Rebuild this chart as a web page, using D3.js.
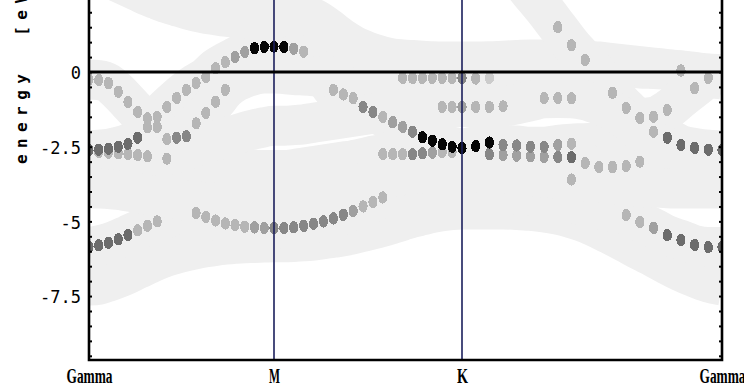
<!DOCTYPE html>
<html>
<head>
<meta charset="utf-8">
<script src="https://cdn.jsdelivr.net/npm/d3@7"></script>
<style>
  body { margin: 0; background: #fff; }
  svg { display: block; }
</style>
</head>
<body>
<div id="chart"></div>
<script>
// k-path: Gamma - M - K - Gamma, 19 steps per segment
var kLabels = ["Gamma", "M", "K", "Gamma"];
var kTicks = [0, 19, 38, 57];
var yTicks = [0, -2.5, -5, -7.5];
var yLabel = "energy  [eV]";

// band energies (eV) at k = 0..57, weights 0..9 (0 = no dot drawn)
var band1 = [-7.15, -7.12, -7.02, -6.9, -6.76, -6.6, -6.45, -6.3, -6.18, -6.08, -6.0, -5.93, -5.87, -5.82, -5.78, -5.75, -5.73, -5.72, -5.71, -5.7,
  -5.7, -5.69, -5.67, -5.64, -5.6, -5.55, -5.5, -5.43, -5.35, -5.27, -5.18, -5.08, -4.98, -4.88, -4.8, -4.72, -4.66, -4.62, -4.6,
  -4.6, -4.6, -4.6, -4.62, -4.65, -4.7, -4.78, -4.9, -5.05, -5.25, -5.48, -5.72, -5.97, -6.2, -6.45, -6.68, -6.88, -7.05, -7.15];

var band2 = [-5.85, -5.8, -5.72, -5.6, -5.45, -5.3, -5.15, -5.0, -4.88, -4.78, -4.72, -4.72, -4.85, -4.97, -5.07, -5.13, -5.18, -5.2, -5.22, -5.23,
  -5.22, -5.2, -5.15, -5.08, -5.0, -4.9, -4.78, -4.65, -4.5, -4.35, -4.2, -4.1, -4.05, -4.02, -4.0, -4.0, -4.0, -4.0, -4.0,
  -4.0, -4.02, -4.05, -4.1, -4.15, -4.22, -4.3, -4.4, -4.5, -4.6, -4.7, -4.79, -5.02, -5.22, -5.46, -5.62, -5.79, -5.86, -5.86];
var weight2 = [6, 6, 6, 6, 6, 3, 3, 3, 0, 0, 0, 3, 3, 3, 3, 3, 3, 4, 4, 5,
  5, 5, 5, 5, 5, 5, 5, 4, 3, 3, 3, 0, 0, 0, 0, 0, 0, 0, 0,
  0, 0, 0, 0, 0, 0, 0, 0, 0, 0, 0, 3, 3, 4, 6, 6, 6, 6, 6];

var band3 = [-2.62, -2.6, -2.57, -2.5, -2.4, -2.2, -1.85, -1.5, -1.17, -0.87, -0.6, -0.37, -0.17, 0.13, 0.33, 0.5, 0.67, 0.8, 0.84, 0.85,
  0.84, 0.78, 0.68, 0.35, -0.1, -0.6, -0.75, -0.88, -1.17, -1.34, -1.5, -1.68, -1.84, -2.0, -2.18, -2.3, -2.42, -2.5, -2.55,
  -2.48, -2.36, -2.44, -2.46, -2.5, -2.5, -2.44, -2.4, -2.38, -2.35, -2.3, -2.2, -2.1, -2.0, -2.2, -2.44, -2.54, -2.6, -2.62];
var weight3 = [6, 6, 6, 6, 6, 6, 3, 3, 3, 3, 3, 3, 3, 3, 3, 4, 4, 9, 9, 9,
  9, 4, 3, 0, 0, 3, 3, 3, 5, 5, 3, 4, 4, 5, 9, 9, 9, 9, 9,
  9, 9, 5, 5, 5, 5, 4, 3, 0, 0, 0, 0, 0, 3, 6, 6, 6, 6, 6];

var band4 = [-0.25, -0.27, -0.37, -0.66, -1.0, -1.34, -1.55, -1.84, -2.25, -2.2, -2.15, -1.72, -1.37, -1.0, -0.6, -0.35, -0.2, -0.1, -0.05, -0.05,
  -0.07, -0.1, -0.12, -0.14, -0.16, -0.17, -0.18, -0.19, -0.2, -0.2, -0.2, -0.2, -0.2, -0.2, -0.2, -0.2, -0.2, -0.2, -0.2,
  -0.22, -0.2, -0.15, -0.05, 0.05, 0.12, 0.18, 0.2, 0.2, 0.2, 0.18, 0.15, 0.12, 0.1, 0.08, 0.05, -0.05, -0.18, -0.25];
var weight4 = [3, 3, 3, 3, 3, 3, 3, 3, 3, 5, 5, 3, 3, 3, 3, 0, 0, 0, 0, 0,
  0, 0, 0, 0, 0, 0, 0, 0, 0, 0, 0, 0, 3, 3, 3, 3, 3, 3, 5,
  3, 2, 0, 0, 0, 0, 0, 0, 0, 0, 0, 0, 0, 0, 0, 3, 0, 0, 0];

var band5 = [-2.65, -2.68, -2.7, -2.72, -2.75, -2.78, -2.82, -2.86, -2.9, -2.95, -3.0, -3.05, -3.1, -3.15, -3.2, -3.22, -3.25, -3.27, -3.28, -3.28,
  -3.28, -3.25, -3.2, -3.15, -3.1, -3.05, -3.0, -2.95, -2.88, -2.8, -2.75, -2.75, -2.75, -2.75, -2.72, -2.7, -2.68, -2.68, -2.7,
  -2.72, -2.75, -2.78, -2.8, -2.82, -2.84, -2.85, -2.85, -3.05, -3.18, -3.18, -3.15, -3.0, -2.85, -2.75, -2.7, -2.66, -2.65, -2.65];
var weight5 = [0, 3, 3, 3, 3, 3, 3, 0, 3, 0, 0, 0, 0, 0, 0, 0, 0, 0, 0, 0,
  0, 0, 0, 0, 0, 0, 0, 0, 0, 0, 3, 3, 3, 5, 5, 4, 3, 3, 0,
  0, 5, 4, 4, 4, 4, 5, 6, 3, 3, 3, 3, 3, 0, 0, 0, 0, 0, 0];

var band6 = [3.4, 3.3, 3.15, 3.0, 2.85, 2.7, 2.55, 2.42, 2.3, 2.2, 2.1, 2.02, 1.95, 1.9, 1.85, 1.82, 1.8, 1.8, 1.8, 1.8,
  1.85, 1.9, 1.9, 1.8, 1.6, 1.35, 1.1, 0.9, 0.75, 0.62, 0.52, 0.45, 0.42, 0.4, 0.38, 0.36, 0.35, 0.35, 0.35,
  0.35, 0.36, 0.38, 0.4, 0.42, 0.42, 0.41, 0.4, 0.38, 0.35, 0.3, 0.25, 0.2, 0.15, 0.1, 0.05, 0.0, -0.05, -0.08];

// this band only enters the window after K
var band7Start = 38;
var band7 = [4.8, 4.4, 4.1, 3.7, 3.2, 2.65, 2.1, 1.5, 0.9, 0.4, -0.1, -0.7, -1.2, -1.54, -1.5, -1.27, -0.9, -0.54, -0.2, -0.05];
var weight7 = [0, 0, 0, 0, 0, 0, 0, 3, 3, 3, 0, 3, 3, 3, 3, 3, 0, 3, 3, 0];

var band8 = [-3.5, -3.45, -3.38, -3.3, -3.2, -3.1, -3.0, -2.9, -2.8, -2.7, -2.6, -2.5, -2.4, -2.3, -2.2, -2.1, -2.0, -1.92, -1.85, -1.8,
  -1.8, -1.78, -1.75, -1.7, -1.65, -1.6, -1.55, -1.5, -1.45, -1.4, -1.35, -1.3, -1.26, -1.23, -1.2, -1.18, -1.17, -1.17, -1.17,
  -1.17, -1.17, -1.15, -1.08, -0.98, -0.88, -0.87, -0.88, -0.95, -1.1, -1.3, -1.6, -1.9, -2.3, -2.7, -3.0, -3.3, -3.45, -3.5];
var weight8 = [0, 0, 0, 0, 0, 0, 0, 0, 0, 0, 0, 0, 0, 0, 0, 0, 0, 0, 0, 0,
  0, 0, 0, 0, 0, 0, 0, 0, 0, 0, 0, 0, 0, 0, 0, 0, 3, 3, 4,
  3, 3, 3, 0, 0, 3, 3, 3, 0, 0, 0, 0, 0, 0, 0, 0, 0, 0, 0];

var band9 = [-3.9, -3.9, -3.92, -3.95, -4.0, -4.05, -4.1, -4.15, -4.2, -4.25, -4.3, -4.33, -4.36, -4.38, -4.4, -4.4, -4.4, -4.4, -4.4, -4.4,
  -4.35, -4.3, -4.22, -4.14, -4.05, -3.96, -3.87, -3.78, -3.7, -3.62, -3.55, -3.5, -3.45, -3.42, -3.4, -3.38, -3.37, -3.36, -3.35,
  -3.36, -3.38, -3.4, -3.44, -3.48, -3.53, -3.57, -3.6, -3.65, -3.7, -3.75, -3.8, -3.84, -3.87, -3.89, -3.9, -3.9, -3.9, -3.9];
var weight9 = [0, 0, 0, 0, 0, 0, 0, 0, 0, 0, 0, 0, 0, 0, 0, 0, 0, 0, 0, 0,
  0, 0, 0, 0, 0, 0, 0, 0, 0, 0, 0, 0, 0, 0, 0, 0, 0, 0, 0,
  0, 0, 0, 0, 0, 0, 0, 3, 0, 0, 0, 0, 0, 0, 0, 0, 0, 0, 0];

var bandList = [
  { e: band1, w: null, start: 0 },
  { e: band2, w: weight2, start: 0 },
  { e: band3, w: weight3, start: 0 },
  { e: band4, w: weight4, start: 0 },
  { e: band5, w: weight5, start: 0 },
  { e: band6, w: null, start: 0 },
  { e: band7, w: weight7, start: band7Start },
  { e: band8, w: weight8, start: 0 },
  { e: band9, w: weight9, start: 0 }
];

var width = 744, height = 390;
var left = 89, right = 722, bottom = 360;

var svg = d3.select('#chart').append('svg')
  .attr('width', width)
  .attr('height', height);

var xScale = d3.scaleLinear()
  .domain(kTicks)
  .range([left, 274, 462, right]);

var yScale = d3.scaleLinear()
  .domain([-9.64, 2.41])
  .range([bottom, 0]);

// shade of a dot from its weight
var shade = d3.scaleLinear()
  .domain([2, 3, 4, 5, 6, 9])
  .range(["#cccccc", "#b6b6b6", "#a0a0a0", "#878787", "#6c6c6c", "#060606"]);

svg.append('clipPath').attr('id', 'plotClip')
  .append('rect')
  .attr('x', left).attr('y', 0)
  .attr('width', right - left).attr('height', bottom);

var plot = svg.append('g').attr('clip-path', 'url(#plotClip)');

var bands = bandList.map(function(b) {
  return b.e.map(function(e, i) {
    return { k: b.start + i, e: e, w: b.w ? b.w[i] : 0 };
  });
});

// light grey halo of every band
var line = d3.line()
  .x(function(d) { return xScale(d.k); })
  .y(function(d) { return yScale(d.e); })
  .curve(d3.curveMonotoneX);

plot.selectAll('.halo')
  .data(bands)
  .enter().append('path')
  .attr('class', 'halo')
  .attr('d', line)
  .style('fill', 'none')
  .style('stroke', '#efefef')
  .style('stroke-width', 40)
  .style('stroke-linejoin', 'round');

// weighted dots, darkest on top
var dots = [];
bands.forEach(function(b) {
  b.forEach(function(p) { if (p.w > 0) dots.push(p); });
});
dots.sort(function(a, b) { return a.w - b.w; });

plot.selectAll('.dot')
  .data(dots)
  .enter().append('ellipse')
  .attr('class', 'dot')
  .attr('cx', function(d) { return xScale(d.k); })
  .attr('cy', function(d) { return yScale(d.e); })
  .attr('rx', 4.6)
  .attr('ry', 6.2)
  .style('fill', function(d) { return shade(d.w); })
  .style('shape-rendering', 'crispEdges');

// M and K markers
svg.selectAll('.kline')
  .data(kTicks.slice(1, 3))
  .enter().append('line')
  .attr('class', 'kline')
  .attr('x1', function(d) { return xScale(d); })
  .attr('x2', function(d) { return xScale(d); })
  .attr('y1', 0)
  .attr('y2', bottom)
  .style('stroke', '#1b1f5c')
  .style('stroke-width', 1.6);

// Fermi level
svg.append('line')
  .attr('x1', left).attr('x2', right)
  .attr('y1', yScale(0)).attr('y2', yScale(0))
  .style('stroke', '#000')
  .style('stroke-width', 3);

// frame
svg.append('path')
  .attr('d', 'M' + left + ',0V' + bottom + 'H' + right + 'V0')
  .style('fill', 'none')
  .style('stroke', '#000')
  .style('stroke-width', 2.6);

// minor ticks on both sides, pointing inward
var minor = d3.range(-9.5, 2.5, 0.5);
var tickL = svg.append('g')
  .attr('transform', 'translate(' + left + ',0)')
  .call(d3.axisRight(yScale).tickValues(minor).tickSize(3).tickFormat(''));
var tickR = svg.append('g')
  .attr('transform', 'translate(' + right + ',0)')
  .call(d3.axisLeft(yScale).tickValues(minor).tickSize(3).tickFormat(''));
[tickL, tickR].forEach(function(g) {
  g.select('.domain').remove();
  g.selectAll('.tick line').style('stroke', '#000').style('stroke-width', 2);
});

// energy tick labels
var yAxis = svg.append('g')
  .attr('transform', 'translate(' + left + ',0)')
  .call(d3.axisLeft(yScale).tickValues(yTicks).tickSize(0).tickPadding(8)
    .tickFormat(function(d) { return d; }));
yAxis.select('.domain').remove();
yAxis.selectAll('text')
  .attr('dy', '0.4em')
  .style('font-family', '"DejaVu Sans Mono", monospace')
  .style('font-size', '17px')
  .style('fill', '#000');

// k-point labels
var labelWidth = { Gamma: 46, M: 11, K: 11 };
var xAxis = svg.append('g')
  .attr('transform', 'translate(0,' + bottom + ')')
  .call(d3.axisBottom(xScale).tickValues(kTicks).tickSize(0).tickPadding(9)
    .tickFormat(function(d, i) { return kLabels[i]; }));
xAxis.select('.domain').remove();
xAxis.selectAll('text')
  .style('font-family', '"Liberation Serif", serif')
  .style('font-weight', 'bold')
  .style('font-size', '20px')
  .style('fill', '#000')
  .attr('textLength', function(d, i) { return labelWidth[kLabels[i]]; })
  .attr('lengthAdjust', 'spacingAndGlyphs');

// axis title, rotated
svg.append('text')
  .attr('transform', 'translate(27,164) rotate(-90)')
  .style('font-family', '"DejaVu Sans Mono", monospace')
  .style('font-weight', 'bold')
  .style('font-size', '16px')
  .style('letter-spacing', '6.4px')
  .style('white-space', 'pre')
  .style('fill', '#000')
  .text(yLabel);
</script>
</body>
</html>
